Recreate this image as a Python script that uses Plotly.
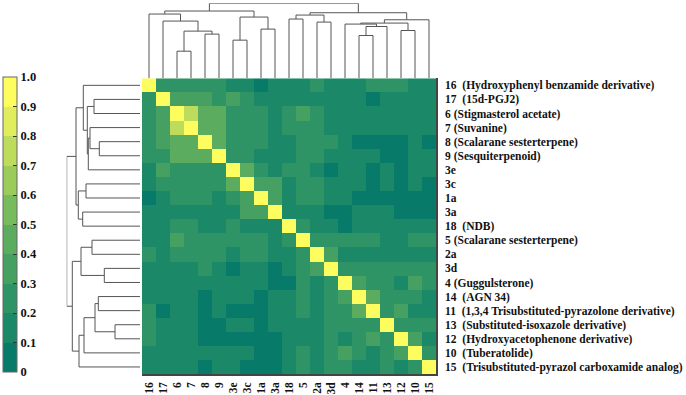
import plotly.graph_objects as go

# ---------------- data ----------------
col_labels = ["16", "17", "6", "7", "8", "9", "3e", "3c", "1a", "3a", "18",
              "5", "2a", "3d", "4", "14", "11", "13", "12", "10", "15"]
row_labels = ["16  (Hydroxyphenyl benzamide derivative)", "17  (15d-PGJ2)",
              "6 (Stigmasterol acetate)", "7 (Suvanine)",
              "8 (Scalarane sesterterpene)", "9 (Sesquiterpenoid)",
              "3e", "3c", "1a", "3a", "18  (NDB)",
              "5 (Scalarane sesterterpene)", "2a", "3d",
              "4 (Guggulsterone)", "14  (AGN 34)",
              "11  (1,3,4 Trisubstituted-pyrazolone derivative)",
              "13  (Substituted-isoxazole derivative)",
              "12  (Hydroxyacetophenone derivative)",
              "10  (Tuberatolide)",
              "15  (Trisubstituted-pyrazol carboxamide analog)"]

# upper triangle (row i, columns j > i) of the symmetric similarity matrix
upper = [
    [.25, .25, .25, .25, .25, .15, .15, .05, .15, .15, .15, .25, .15, .15, .15, .25, .25, .25, .15, .15],
    [.35, .35, .35, .25, .35, .25, .15, .15, .15, .15, .15, .15, .15, .15, .05, .15, .15, .15, .15],
    [.75, .45, .45, .25, .25, .25, .15, .25, .35, .25, .15, .15, .15, .15, .15, .15, .15, .15],
    [.45, .45, .25, .25, .25, .15, .25, .25, .25, .15, .15, .15, .15, .15, .15, .15, .15],
    [.45, .25, .25, .25, .15, .15, .25, .25, .25, .15, .05, .05, .05, .05, .15, .05],
    [.25, .25, .15, .15, .15, .25, .25, .15, .15, .15, .15, .05, .05, .15, .15],
    [.45, .25, .15, .25, .25, .15, .05, .15, .15, .05, .15, .05, .15, .15],
    [.35, .35, .15, .25, .25, .15, .15, .15, .05, .15, .05, .15, .05],
    [.35, .15, .25, .25, .15, .15, .05, .05, .05, .05, .05, .05],
    [.15, .15, .15, .05, .05, .15, .15, .15, .05, .05, .05],
    [.25, .15, .15, .05, .15, .15, .15, .15, .15, .15],
    [.25, .25, .25, .25, .25, .15, .15, .25, .25],
    [.35, .15, .15, .15, .15, .15, .15, .15],
    [.25, .25, .25, .25, .25, .25, .25],
    [.35, .25, .25, .15, .35, .25],
    [.45, .25, .25, .25, .15],
    [.25, .35, .15, .15],
    [.25, .25, .25],
    [.35, .15],
    [.25],
    [],
]
diag_value = 1.0

# linkage: (child a, child b, merge height); ids >= 21 are earlier merges
top_links = [
    (2, 3, 27), (4, 5, 44), (21, 22, 47), (1, 23, 57), (0, 24, 64),
    (6, 7, 38), (8, 9, 49), (26, 27, 61), (25, 28, 67),
    (10, 11, 59), (12, 13, 56), (30, 31, 63),
    (15, 16, 42.6), (33, 17, 51.6), (14, 34, 54), (18, 19, 47.6),
    (35, 36, 55), (37, 20, 58.3), (32, 38, 65.3), (29, 39, 74.7),
]
left_links = [
    (1, 2, 46), (4, 5, 40.7), (3, 22, 50), (23, 6, 51.7), (21, 24, 52.7),
    (0, 25, 56.7), (7, 8, 54), (9, 10, 57.3), (27, 28, 61.7), (26, 29, 64),
    (11, 12, 48), (13, 14, 35.7), (31, 32, 59), (15, 16, 41.7), (17, 18, 25),
    (34, 35, 45), (36, 19, 56), (37, 20, 61), (33, 38, 67.7), (30, 39, 73.3),
]

cb_ticks = [0, 0.1, 0.2, 0.3, 0.4, 0.5, 0.6, 0.7, 0.8, 0.9, 1.0]
cb_ticktext = ["0", "0.1", "0.2", "0.3", "0.4", "0.5", "0.6", "0.7", "0.8", "0.9", "1.0"]
band_colors = ["#087a69", "#1b8967", "#2f9465", "#45a062", "#5cac5f",
               "#78bb5d", "#9acb5b", "#bddc5c", "#e0ee5e", "#fdfd60"]

# ---------------- build ----------------
n = len(col_labels)
z = [[0.0] * n for _ in range(n)]
for i in range(n):
    z[i][i] = diag_value
    for k, v in enumerate(upper[i]):
        j = i + 1 + k
        z[i][j] = v
        z[j][i] = v

cscale = []
nb = len(band_colors)
for i, c in enumerate(band_colors):
    cscale.append([i / nb, c])
    cscale.append([(i + 1) / nb, c])


def dendro_segments(links, nleaves):
    pos = {i: float(i) for i in range(nleaves)}
    hgt = {i: 0.0 for i in range(nleaves)}
    xs, ys = [], []
    for k, (a, b, h) in enumerate(links):
        xa, xb = pos[a], pos[b]
        xs += [xa, xa, xb, xb, None]
        ys += [hgt[a], h, h, hgt[b], None]
        pos[nleaves + k] = (xa + xb) / 2
        hgt[nleaves + k] = h
    return xs, ys


W, H = 686, 395
hx0, hx1 = 142 / W, 436 / W
hy0, hy1 = 1 - 374 / H, 1 - 78.3 / H

fig = go.Figure()
fig.add_trace(go.Heatmap(
    z=z, x=list(range(n)), y=list(range(n)),
    zmin=0, zmax=1, colorscale=cscale, xgap=0, ygap=0,
    colorbar=dict(
        x=3 / W, xanchor="left", y=1 - 77 / H, yanchor="top",
        len=295, lenmode="pixels", thickness=14, thicknessmode="pixels",
        tickvals=cb_ticks, ticktext=cb_ticktext, ticks="inside", ticklen=4,
        tickcolor="#333", outlinecolor="#666", outlinewidth=1,
        tickfont=dict(family="Liberation Serif", size=12.5, color="#111", weight="bold"),
        xpad=0, ypad=0,
    ),
    hoverinfo="skip",
))

tx, ty = dendro_segments(top_links, n)
fig.add_trace(go.Scatter(x=tx, y=ty, mode="lines", xaxis="x2", yaxis="y2",
                         line=dict(color="#555", width=1), hoverinfo="skip",
                         showlegend=False))
lx, ly = dendro_segments(left_links, n)
fig.add_trace(go.Scatter(x=ly, y=lx, mode="lines", xaxis="x3", yaxis="y3",
                         line=dict(color="#555", width=1), hoverinfo="skip",
                         showlegend=False))

label_font = dict(family="Liberation Serif", size=11.5, color="#111", weight="bold")
top_max = max(h for _, _, h in top_links)
left_max = max(h for _, _, h in left_links)

fig.update_layout(
    width=W, height=H, margin=dict(l=0, r=0, t=0, b=0),
    paper_bgcolor="white", plot_bgcolor="white", showlegend=False,
    xaxis=dict(domain=[hx0, hx1], range=[-0.5, n - 0.5], tickvals=list(range(n)),
               ticktext=col_labels, tickangle=-90, tickfont=label_font,
               showgrid=False, zeroline=False, showline=True, linecolor="#444",
               linewidth=1.5, ticks="", ticklabelstandoff=2, automargin=False),
    yaxis=dict(domain=[hy0, hy1], range=[n - 0.5, -0.5], tickvals=list(range(n)),
               ticktext=row_labels, side="right", tickfont=label_font,
               showgrid=False, zeroline=False, showline=True, linecolor="#444",
               linewidth=1.5, ticks="", ticklabelstandoff=5, automargin=False),
    xaxis2=dict(domain=[hx0, hx1], range=[-0.5, n - 0.5], anchor="y2",
                visible=False, automargin=False),
    yaxis2=dict(domain=[hy1, 1 - 3.3 / H], range=[0, top_max], anchor="x2",
                visible=False, automargin=False),
    xaxis3=dict(domain=[66.7 / W, 140 / W], range=[left_max, 0], anchor="y3",
                visible=False, automargin=False),
    yaxis3=dict(domain=[hy0, hy1], range=[n - 0.5, -0.5], anchor="x3",
                visible=False, automargin=False),
)

fig.write_html("out.html", config={"displayModeBar": False},
               post_script="document.body.style.margin='0';document.body.style.padding='0';")
